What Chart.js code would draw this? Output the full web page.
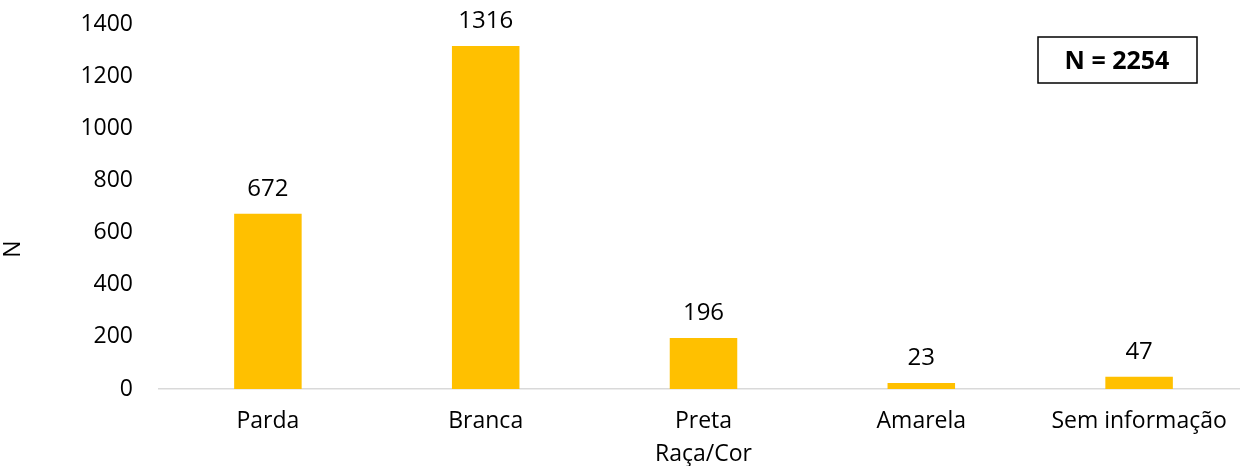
<!DOCTYPE html>
<html>
<head>
<meta charset="utf-8">
<script src="https://cdn.jsdelivr.net/npm/chart.js@4"></script>
<style>
  html, body { margin: 0; padding: 0; background: #fff; overflow: hidden; }
  #wrap { width: 1248px; height: 466px; }
</style>
</head>
<body>
<div id="wrap"><canvas id="c" width="1248" height="466"></canvas></div>
<script>
const categories = ["Parda", "Branca", "Preta", "Amarela", "Sem informação"];
const counts = [672, 1316, 196, 23, 47];
const yTicks = [0, 200, 400, 600, 800, 1000, 1200, 1400];
const totalLabel = "N = 2254";
const xTitle = "Raça/Cor";
const yTitle = "N";

const FONT = "'Open Sans', sans-serif";

const valueLabels = {
  id: 'valueLabels',
  afterDatasetsDraw(chart) {
    const ctx = chart.ctx;
    const meta = chart.getDatasetMeta(0);
    ctx.save();
    ctx.fillStyle = '#000';
    ctx.font = "24px " + FONT;
    ctx.textAlign = 'center';
    ctx.textBaseline = 'middle';
    meta.data.forEach((bar, i) => {
      ctx.fillText(String(counts[i]), bar.x, bar.y - 25);
    });
    ctx.restore();
  }
};

const extras = {
  id: 'extras',
  afterDraw(chart) {
    const ctx = chart.ctx;
    ctx.save();
    ctx.strokeStyle = '#000';
    ctx.lineWidth = 1.5;
    ctx.strokeRect(1038, 37, 159, 46);
    ctx.fillStyle = '#000';
    ctx.font = "bold 25px " + FONT;
    ctx.textAlign = 'center';
    ctx.textBaseline = 'middle';
    ctx.fillText(totalLabel, 1117, 62);
    // y-axis title
    ctx.translate(13, 249);
    ctx.rotate(-Math.PI / 2);
    ctx.font = "23px " + FONT;
    ctx.fillText(yTitle, 0, 0);
    ctx.restore();
  }
};

new Chart(document.getElementById('c'), {
  type: 'bar',
  data: {
    labels: categories,
    datasets: [{
      data: counts,
      backgroundColor: '#FFC000',
      borderWidth: 0,
      barPercentage: 0.31,
      categoryPercentage: 1.0
    }]
  },
  options: {
    responsive: false,
    animation: false,
    layout: { padding: { top: 24, right: 0, left: 0, bottom: 0 } },
    plugins: { legend: { display: false }, tooltip: { enabled: false } },
    scales: {
      x: {
        grid: { display: false, drawTicks: false },
        border: { display: true, color: '#d9d9d9', width: 1.5 },
        ticks: { color: '#000', font: { family: FONT, size: 23 }, padding: 19, maxRotation: 0 },
        title: { display: true, text: xTitle, color: '#000', font: { family: FONT, size: 23 }, padding: { top: 0, bottom: -2 } },
        afterFit(s) { s.height = 77; s.paddingLeft = 0; s.paddingRight = 0; }
      },
      y: {
        min: 0, max: 1400,
        afterBuildTicks(s) { s.ticks = yTicks.map(v => ({ value: v })); },
        grid: { display: false, drawTicks: false },
        border: { display: false },
        ticks: { color: '#000', font: { family: FONT, size: 23 }, padding: 26, callback: v => String(v) },
        afterFit(s) { s.width = 159; s.paddingTop = 0; s.paddingBottom = 0; }
      }
    }
  },
  plugins: [valueLabels, extras]
});
</script>
</body>
</html>
